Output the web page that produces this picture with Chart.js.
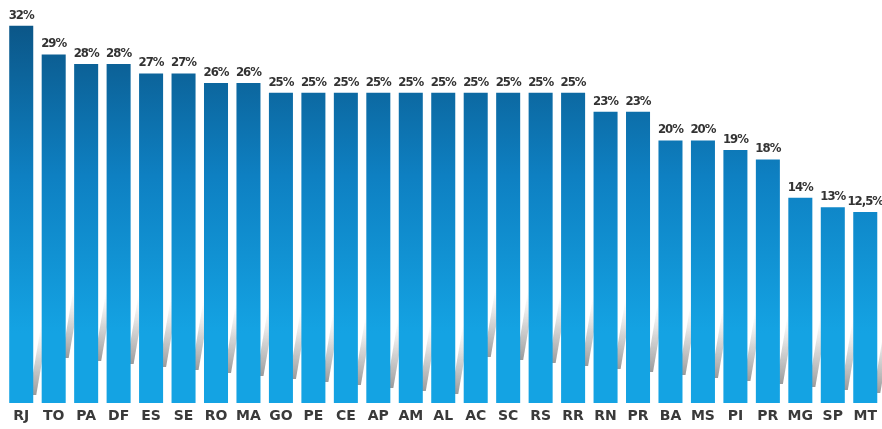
<!DOCTYPE html>
<html>
<head>
<meta charset="utf-8">
<script src="https://cdn.jsdelivr.net/npm/chart.js@4/dist/chart.umd.min.js"></script>
<style>
  html, body { margin: 0; padding: 0; background: #fff; }
  #wrap { width: 882px; height: 429px; }
</style>
</head>
<body>
<div id="wrap"><canvas id="uf-chart"></canvas></div>
<script>
const states = ['RJ', 'TO', 'PA', 'DF', 'ES', 'SE', 'RO', 'MA', 'GO', 'PE', 'CE', 'AP', 'AM', 'AL', 'AC', 'SC', 'RS', 'RR', 'RN', 'PR', 'BA', 'MS', 'PI', 'PR', 'MG', 'SP', 'MT'];
const rates = [32, 29, 28, 28, 27, 27, 26, 26, 25, 25, 25, 25, 25, 25, 25, 25, 25, 25, 23, 23, 20, 20, 19, 18, 14, 13, 12.5];
const yMin = -7.5;
const yMax = 34.7;

// grey diagonal reflections in the gaps between bars
const reflections = {
    id: 'reflections',
    beforeDatasetsDraw(chart) {
        const c = chart.ctx;
        const bottom = chart.chartArea.bottom;
        c.save();
        chart.getDatasetMeta(0).data.forEach((bar, i) => {
            const r = bar.x + bar.width / 2;
            const h0 = 8 + (i * 37) % 40;
            const g = c.createLinearGradient(0, bottom - h0, 0, bottom - h0 - 70);
            g.addColorStop(0, 'rgba(120,120,120,0.75)');
            g.addColorStop(0.5, 'rgba(170,170,170,0.5)');
            g.addColorStop(1, 'rgba(210,210,210,0)');
            c.fillStyle = g;
            c.beginPath();
            c.moveTo(r - 4, bottom - h0);
            c.lineTo(r + 3, bottom - h0);
            c.lineTo(r + 15, bottom - h0 - 70);
            c.lineTo(r + 8, bottom - h0 - 70);
            c.closePath();
            c.fill();
        });
        c.restore();
    }
};

const valueLabels = {
    id: 'valueLabels',
    afterDatasetsDraw(chart) {
        const c = chart.ctx;
        c.save();
        c.font = 'bold 13px "DejaVu Sans Condensed", "DejaVu Sans", sans-serif';
        c.fillStyle = '#333333';
        c.textAlign = 'center';
        c.textBaseline = 'bottom';
        if ('letterSpacing' in c) c.letterSpacing = '-1px';
        chart.getDatasetMeta(0).data.forEach((bar, i) => {
            const txt = String(rates[i]).replace('.', ',') + '%';
            c.fillText(txt, bar.x, bar.y - 4);
        });
        c.restore();
    }
};

const ctx = document.getElementById('uf-chart');
const ufChart = new Chart(ctx, {
    type: 'bar',
    data: {
        labels: states,
        datasets: [{
            data: rates,
            base: yMin,
            backgroundColor: function(context) {
                const area = context.chart.chartArea;
                if (!area) return '#0f7fc0';
                const g = context.chart.ctx.createLinearGradient(0, area.top + 20, 0, area.bottom - 70);
                g.addColorStop(0, '#0b5586');
                g.addColorStop(0.5, '#0e80c2');
                g.addColorStop(1, '#14a3e3');
                return g;
            },
            borderWidth: 0,
            barPercentage: 0.74,
            categoryPercentage: 1
        }]
    },
    options: {
        responsive: true,
        maintainAspectRatio: false,
        animation: false,
        layout: { padding: { left: 5, right: 0, top: 0, bottom: 0 } },
        plugins: {
            legend: { display: false },
            tooltip: { enabled: false }
        },
        scales: {
            x: {
                grid: { display: false, drawTicks: false },
                border: { display: false },
                ticks: {
                    color: '#3a3a3a',
                    font: { family: '"DejaVu Sans", sans-serif', size: 14, weight: 'bold' },
                    padding: 5,
                    maxRotation: 0,
                    autoSkip: false
                },
                afterFit(scale) { scale.height = 26; }
            },
            y: {
                display: false,
                min: yMin,
                max: yMax
            }
        }
    },
    plugins: [reflections, valueLabels]
});
</script>
</body>
</html>
